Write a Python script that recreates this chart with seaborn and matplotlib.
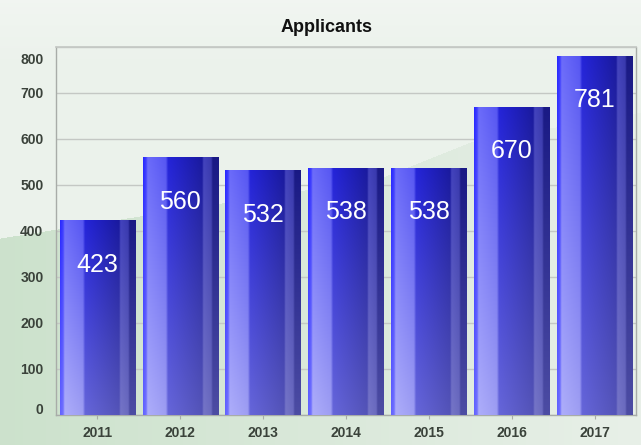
import numpy as np
import pandas as pd
import matplotlib
matplotlib.use("Agg")
import matplotlib.pyplot as plt
from matplotlib.transforms import ScaledTranslation
import seaborn as sns

years = ["2011", "2012", "2013", "2014", "2015", "2016", "2017"]
applicants = [423, 560, 532, 538, 538, 670, 781]
yticks = [0, 100, 200, 300, 400, 500, 600, 700, 800]
title = "Applicants"

sns.set_theme(style="white")
plt.rcParams["font.family"] = ["Liberation Sans", "DejaVu Sans"]

W, H = 641, 445
fig = plt.figure(figsize=(W / 100, H / 100), dpi=100)

# ---- figure background (decorative gradient with soft green hill) ----
bg_ax = fig.add_axes([0, 0, 1, 1], zorder=-10)
bg_ax.set_axis_off()
xx, yy = np.meshgrid(np.arange(W), np.arange(H))
top_col = np.array([0.925, 0.950, 0.925])
img = np.ones((H, W, 3)) * top_col
fade = np.clip(1 - yy / 60.0, 0, 1)[..., None]
img = img * (1 - fade * 0.6) + np.array([0.96, 0.97, 0.96]) * fade * 0.6
bx = np.array([0, 380, 470, 641])
by = np.array([238, 178, 142, 112])
boundary = np.interp(xx, bx, by)
hill = (yy > boundary)
t = (xx / W)[..., None]
left_c = np.array([0.80, 0.885, 0.80])
right_c = np.array([0.91, 0.94, 0.91])
hill_col = left_c * (1 - t) + right_c * t
img = np.where(hill[..., None], hill_col, img)
bg_ax.imshow(img, extent=[0, 1, 0, 1], aspect="auto", interpolation="bilinear")
bg_ax.set_xlim(0, 1)
bg_ax.set_ylim(0, 1)

# ---- main axes ----
left, right, bottom, top = 56, 636, 415, 47
ax = fig.add_axes([left / W, 1 - bottom / H, (right - left) / W, (bottom - top) / H])
ax.set_facecolor("none")

df = pd.DataFrame({"year": years, "applicants": applicants})
sns.barplot(data=df, x="year", y="applicants", color="#3030d0", width=0.91,
            ax=ax, saturation=1, zorder=2)

u_pts = [0.0, 0.04, 0.06, 0.30, 0.33, 0.78, 0.80, 0.90, 0.92, 1.0]
top_prof = np.array([
    [0.15, 0.15, 1.00], [0.25, 0.25, 1.00], [0.42, 0.42, 0.98], [0.34, 0.34, 0.95],
    [0.14, 0.14, 0.85], [0.10, 0.10, 0.62], [0.26, 0.26, 0.74], [0.22, 0.22, 0.68],
    [0.10, 0.10, 0.52], [0.10, 0.10, 0.52]])
bot_prof = np.array([
    [0.38, 0.38, 1.00], [0.45, 0.45, 1.00], [0.68, 0.68, 0.98], [0.62, 0.62, 0.95],
    [0.40, 0.40, 0.85], [0.33, 0.33, 0.72], [0.46, 0.46, 0.78], [0.42, 0.42, 0.75],
    [0.30, 0.30, 0.64], [0.30, 0.30, 0.64]])
nu, nv = 200, 200
u = np.linspace(0, 1, nu)
v = np.linspace(1, 0, nv)[:, None, None]
tp = np.stack([np.interp(u, u_pts, top_prof[:, c]) for c in range(3)], axis=-1)[None]
bp = np.stack([np.interp(u, u_pts, bot_prof[:, c]) for c in range(3)], axis=-1)[None]
grad = bp * (1 - v) + tp * v

for p in ax.patches:
    x0, w, h = p.get_x(), p.get_width(), p.get_height()
    p.set_edgecolor("none")
    im = ax.imshow(grad, extent=[x0, x0 + w, 0, h], aspect="auto",
                   interpolation="bilinear", zorder=3)
    im.set_clip_path(p)

for i, val in enumerate(applicants):
    ax.annotate(str(val), xy=(i, val), xytext=(0, -32), textcoords="offset points",
                ha="center", va="center", color="white", fontsize=18, zorder=5)

ax.set_xlim(-0.5, len(years) - 0.5)
ax.set_ylim(0, 800)
ax.set_yticks(yticks)
ax.set_yticklabels([str(t) for t in yticks])
ax.set_xlabel("")
ax.set_ylabel("")

ax.yaxis.grid(True, color="#c4c8c4", linewidth=1.0, zorder=0)
ax.set_axisbelow(True)
for s in ["left", "bottom", "right"]:
    ax.spines[s].set_visible(True)
    ax.spines[s].set_color("#a8aca8")
    ax.spines[s].set_linewidth(1.0)
ax.spines["top"].set_visible(True)
ax.spines["top"].set_color("#c4c8c4")

ax.tick_params(axis="y", length=0, pad=9, labelsize=10, labelcolor="#3a423a")
ax.tick_params(axis="x", length=3, width=0.8, color="#a8aca8", pad=5,
               labelsize=10, labelcolor="#3a423a", bottom=True)
for lab in ax.get_xticklabels() + ax.get_yticklabels():
    lab.set_fontweight("bold")

ylabels = ax.get_yticklabels()
ylabels[0].set_transform(ylabels[0].get_transform() +
                         ScaledTranslation(0, 7 / 100, fig.dpi_scale_trans))
ylabels[-1].set_transform(ylabels[-1].get_transform() +
                          ScaledTranslation(0, -11 / 100, fig.dpi_scale_trans))

fig.text(327 / W, 1 - 28 / H, title, ha="center", va="center",
         fontsize=13, fontweight="bold", color="#111111")

fig.savefig("out.png", dpi=100)
